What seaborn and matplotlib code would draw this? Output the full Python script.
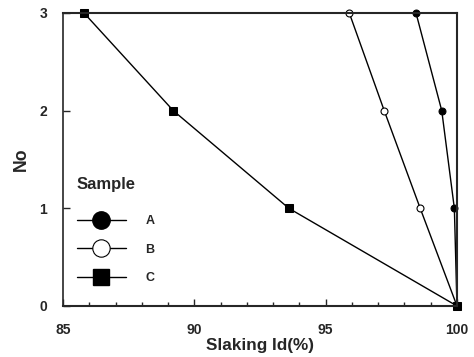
import matplotlib
matplotlib.use("Agg")
import matplotlib.pyplot as plt
import seaborn as sns
import pandas as pd
from matplotlib.ticker import MultipleLocator
from matplotlib.lines import Line2D

sns.set_style("ticks")
plt.rcParams['font.family'] = ['Liberation Sans', 'DejaVu Sans']
plt.rcParams['font.weight'] = 'bold'

samples = ["A", "B", "C"]
no_values = [0, 1, 2, 3]
slaking_A = [100.0, 99.9, 99.42, 98.44]
slaking_B = [100.0, 98.6, 97.23, 95.9]
slaking_C = [100.0, 93.6, 89.2, 85.8]

rows = []
for s, vals in zip(samples, [slaking_A, slaking_B, slaking_C]):
    for n, v in zip(no_values, vals):
        rows.append({"Sample": s, "No": n, "Slaking": v})
df = pd.DataFrame(rows)

fig = plt.figure(figsize=(4.74, 3.57), dpi=100)
ax = fig.add_axes([0.1329, 0.1429, 0.8312, 0.8207])

sns.lineplot(data=df, x="Slaking", y="No", hue="Sample", style="Sample",
             palette=["black"] * 3, markers={"A": "o", "B": "o", "C": "s"},
             dashes=False, sort=False, estimator=None, ax=ax, linewidth=1.0,
             markersize=5, legend=False)

for line, s in zip(ax.get_lines(), samples):
    line.set_clip_on(False)
    line.set_markeredgecolor("black")
    if s == "B":
        line.set_markerfacecolor("white")
        line.set_markeredgewidth(0.8)
    else:
        line.set_markerfacecolor("black")
    if s == "C":
        line.set_markersize(6)

handles = [
    Line2D([], [], color="black", lw=1.0, marker="o", markersize=12.5, markerfacecolor="black", markeredgecolor="black"),
    Line2D([], [], color="black", lw=1.0, marker="o", markersize=12.5, markerfacecolor="white", markeredgecolor="black", markeredgewidth=0.8),
    Line2D([], [], color="black", lw=1.0, marker="s", markersize=12, markerfacecolor="black", markeredgecolor="black"),
]
leg = ax.legend(handles, samples, title="Sample", loc="lower left",
                bbox_to_anchor=(0.035, 0.075), borderaxespad=0, borderpad=0,
                frameon=False, handlelength=3.9,
                handletextpad=1.6, labelspacing=1.31,
                prop={"weight": "bold", "size": 9},
                title_fontproperties={"weight": "bold", "size": 12})
leg._legend_box.align = "left"
leg._legend_box.sep = 16.7

ax.set_xlim(85, 100)
ax.set_ylim(0, 3)
ax.xaxis.set_major_locator(MultipleLocator(5))
ax.xaxis.set_minor_locator(MultipleLocator(1))
ax.yaxis.set_major_locator(MultipleLocator(1))
ax.tick_params(axis="both", which="major", direction="in", length=5, width=1, labelsize=10)
ax.tick_params(axis="x", which="major", pad=12.5)
ax.tick_params(axis="y", which="major", pad=11.5)
ax.tick_params(axis="x", which="minor", direction="in", length=3, width=1)
for lab in ax.get_xticklabels() + ax.get_yticklabels():
    lab.set_fontweight("bold")
for name, sp in ax.spines.items():
    sp.set_visible(True)
    sp.set_linewidth(1.2 if name == "left" else 1.5)
ax.set_xlabel("Slaking Id(%)", fontsize=12.3, fontweight="bold", labelpad=0.5)
ax.set_ylabel("No", fontsize=12.7, fontweight="bold", labelpad=7)

fig.savefig("out.png", dpi=100)
